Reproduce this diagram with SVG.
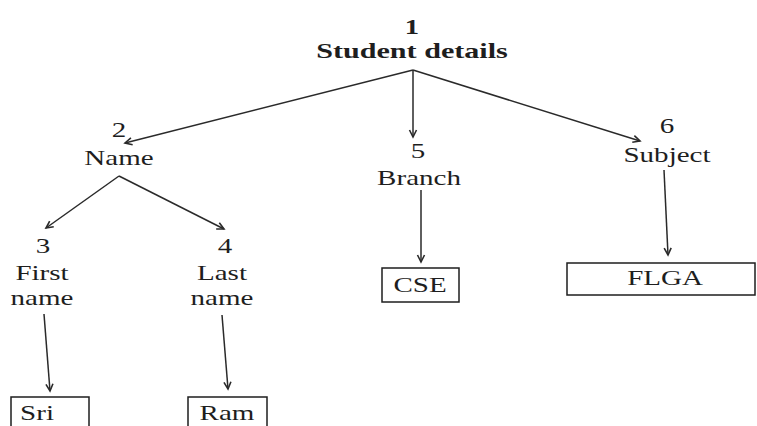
<svg xmlns="http://www.w3.org/2000/svg" width="757" height="426" viewBox="0 0 757 426">
  <defs>
    <marker id="arr" markerWidth="10" markerHeight="10" refX="8" refY="5" orient="auto" markerUnits="userSpaceOnUse">
      <path d="M1,1.5 L8,5 L1,8.5" fill="none" stroke="#2a2a2a" stroke-width="1.6"/>
    </marker>
  </defs>
  <style>
    text { font-family: "Liberation Serif", "Times New Roman", serif; fill: #1e1e1e; text-anchor: middle; }
    .t { font-size: 21.5px; }
    .b { font-size: 22px; font-weight: bold; }
    .edge { stroke: #2a2a2a; stroke-width: 1.5; fill: none; marker-end: url(#arr); }
    .box { fill: #ffffff; stroke: #1e1e1e; stroke-width: 1.5; }
  </style>
  <rect width="757" height="426" fill="#ffffff"/>

  <g id="connectors">
    <line class="edge" x1="413" y1="70" x2="125" y2="143"/>
    <line class="edge" x1="413" y1="70" x2="413" y2="137"/>
    <line class="edge" x1="413" y1="70" x2="640" y2="141"/>
    <line class="edge" x1="119" y1="176" x2="46" y2="228"/>
    <line class="edge" x1="119" y1="176" x2="224" y2="229"/>
    <line class="edge" x1="44" y1="314" x2="50" y2="391"/>
    <line class="edge" x1="222" y1="315" x2="228" y2="389"/>
    <line class="edge" x1="421" y1="190" x2="421" y2="262"/>
    <line class="edge" x1="664" y1="170" x2="668" y2="255"/>
  </g>

  <g id="node1">
    <text class="b" transform="translate(412 34) scale(1.3 1)">1</text>
    <text class="b" transform="translate(412 58) scale(1.37 1)">Student details</text>
  </g>
  <g id="node2">
    <text class="t" transform="translate(119 137) scale(1.35 1)">2</text>
    <text class="t" transform="translate(119 165) scale(1.35 1)">Name</text>
  </g>
  <g id="node3">
    <text class="t" transform="translate(43 253) scale(1.35 1)">3</text>
    <text class="t" transform="translate(42 280) scale(1.35 1)">First</text>
    <text class="t" transform="translate(42 305) scale(1.35 1)">name</text>
  </g>
  <g id="node4">
    <text class="t" transform="translate(225 253) scale(1.35 1)">4</text>
    <text class="t" transform="translate(222 280) scale(1.35 1)">Last</text>
    <text class="t" transform="translate(222 305) scale(1.35 1)">name</text>
  </g>
  <g id="node5">
    <text class="t" transform="translate(418 158) scale(1.35 1)">5</text>
    <text class="t" transform="translate(419 185) scale(1.35 1)">Branch</text>
  </g>
  <g id="node6">
    <text class="t" transform="translate(667 133) scale(1.35 1)">6</text>
    <text class="t" transform="translate(667 162) scale(1.35 1)">Subject</text>
  </g>
  <g id="node-sri">
    <rect class="box" x="11" y="397" width="78" height="40"/>
    <text class="t" transform="translate(37 420) scale(1.35 1)">Sri</text>
  </g>
  <g id="node-ram">
    <rect class="box" x="188" y="397" width="79" height="40"/>
    <text class="t" transform="translate(227 420) scale(1.35 1)">Ram</text>
  </g>
  <g id="node-cse">
    <rect class="box" x="382" y="268" width="77" height="34"/>
    <text class="t" transform="translate(420 292) scale(1.35 1)">CSE</text>
  </g>
  <g id="node-flga">
    <rect class="box" x="567" y="263" width="188" height="32"/>
    <text class="t" transform="translate(665 285) scale(1.35 1)">FLGA</text>
  </g>
</svg>
